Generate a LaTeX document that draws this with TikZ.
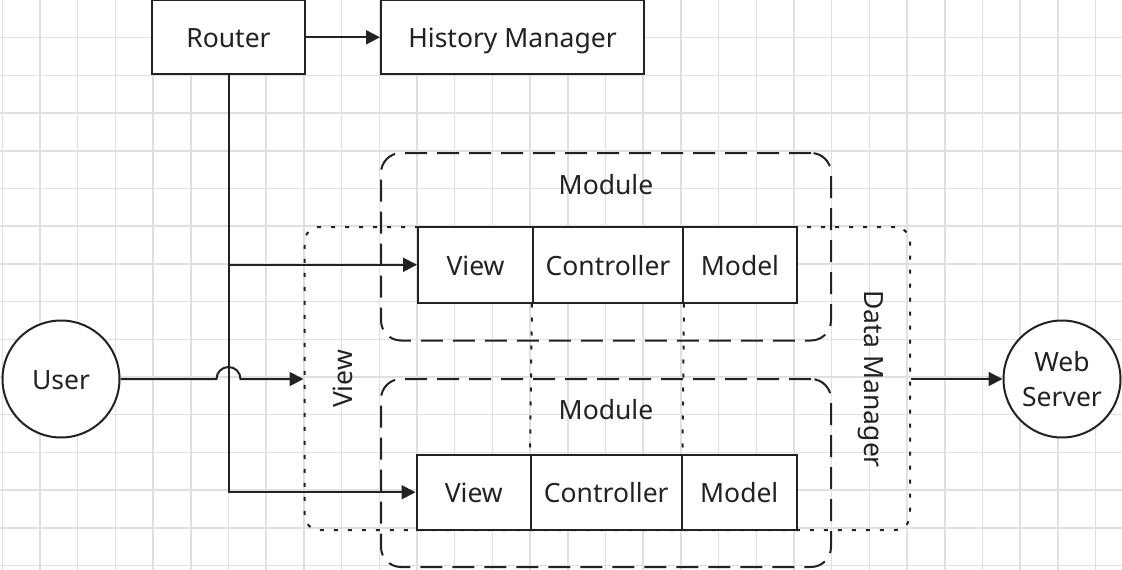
\documentclass[tikz,border=0pt]{standalone}
\usepackage{fontspec}
\setmainfont{Noto Sans}
\usetikzlibrary{arrows.meta,calc}
\definecolor{ln}{HTML}{222222}
\definecolor{gridc}{HTML}{E0E0E0}
\begin{document}
\begin{tikzpicture}[x=1pt,y=-1pt,
  font=\fontsize{26.5}{35}\selectfont,
  every node/.style={text=ln},
  txt/.style={text height=21pt,text depth=0pt,inner sep=0pt},
  solidbox/.style={draw=ln,line width=2pt,fill=white,rectangle,inner sep=0pt,text height=21pt,text depth=0pt},
  modbox/.style={draw=ln,line width=2pt,rectangle,rounded corners=20pt,dash pattern=on 22pt off 10pt,inner sep=0pt},
  dotbox/.style={draw=ln,line width=2pt,rectangle,rounded corners=15pt,dash pattern=on 4pt off 10pt,inner sep=0pt},
  conn/.style={draw=ln,line width=2pt},
  arr/.style={conn,-{Triangle[length=14pt,width=14pt]}},
  circ/.style={draw=ln,line width=2pt,fill=white,circle,minimum size=117pt,inner sep=0pt,align=center}
]
\useasboundingbox (0,0) rectangle (1122,570);
\fill[white] (0,0) rectangle (1122,570);
% grid
\foreach \i in {0,...,29} {
  \draw[gridc,line width=1.5pt] ({2.3+37.7*\i},0) -- ({2.3+37.7*\i},570);
}
\foreach \j in {1,...,15} {
  \draw[gridc,line width=1.5pt] (0,{37.7*\j}) -- (1122,{37.7*\j});
}

% containers
\node[dotbox,minimum width=605.5pt,minimum height=303pt] (dm) at (607.25,378.5) {};
\node[modbox,minimum width=450pt,minimum height=187.5pt] (mod1) at (606,246.75) {};
\node[modbox,minimum width=450pt,minimum height=188pt] (mod2) at (606,473) {};
\node[txt] (mod1t) at (606,184) {Module};
\node[txt] (mod2t) at (606,409) {Module};
\node[txt,rotate=90] (viewt) at (341.5,379) {View};
\node[txt,rotate=-90] (dmt) at (875,379) {Data Manager};

% top boxes
\node[solidbox,minimum width=153pt,minimum height=74pt] (router) at (228.5,37.3) {Router};
\node[solidbox,minimum width=263pt,minimum height=74pt] (hist) at (512.5,37.3) {History Manager};

% MVC rows
\node[solidbox,minimum width=115pt,minimum height=75.5pt] (view1) at (475.5,264.75) {View};
\node[solidbox,minimum width=150pt,minimum height=75.5pt] (ctrl1) at (608,264.75) {Controller};
\node[solidbox,minimum width=114pt,minimum height=75.5pt] (model1) at (740,264.75) {Model};
\node[solidbox,minimum width=114.5pt,minimum height=75.5pt] (view2) at (473.75,492.25) {View};
\node[solidbox,minimum width=150.5pt,minimum height=75.5pt] (ctrl2) at (606.25,492.25) {Controller};
\node[solidbox,minimum width=115.5pt,minimum height=75.5pt] (model2) at (739.25,492.25) {Model};

% dotted links between rows
\draw[draw=ln,line width=2pt,dash pattern=on 4pt off 10pt] (ctrl1.south west) -- (ctrl2.north west);
\draw[draw=ln,line width=2pt,dash pattern=on 4pt off 10pt] (ctrl1.south east) -- (ctrl2.north east);

% circles
\node[circ,text height=21pt,text depth=0pt] (user) at (61,379) {User};
\node[circ] (web) at (1062,379) {Web\\Server};

% connectors
\draw[arr] (router.east) -- (hist.west);
\draw[arr] (router.south) -- (router.south |- view2.west) -- (view2.west);
\draw[arr] (router.south |- view1.west) -- (view1.west);
\coordinate (jumpL) at ($(router.south |- user.east)+(-12,0)$);
\draw[arr] (user.east) -- (jumpL) arc[start angle=180,end angle=0,radius=12pt] -- (dm.west |- user.east);
\draw[arr] (dm.east |- web.west) -- (web.west);
\end{tikzpicture}
\end{document}
